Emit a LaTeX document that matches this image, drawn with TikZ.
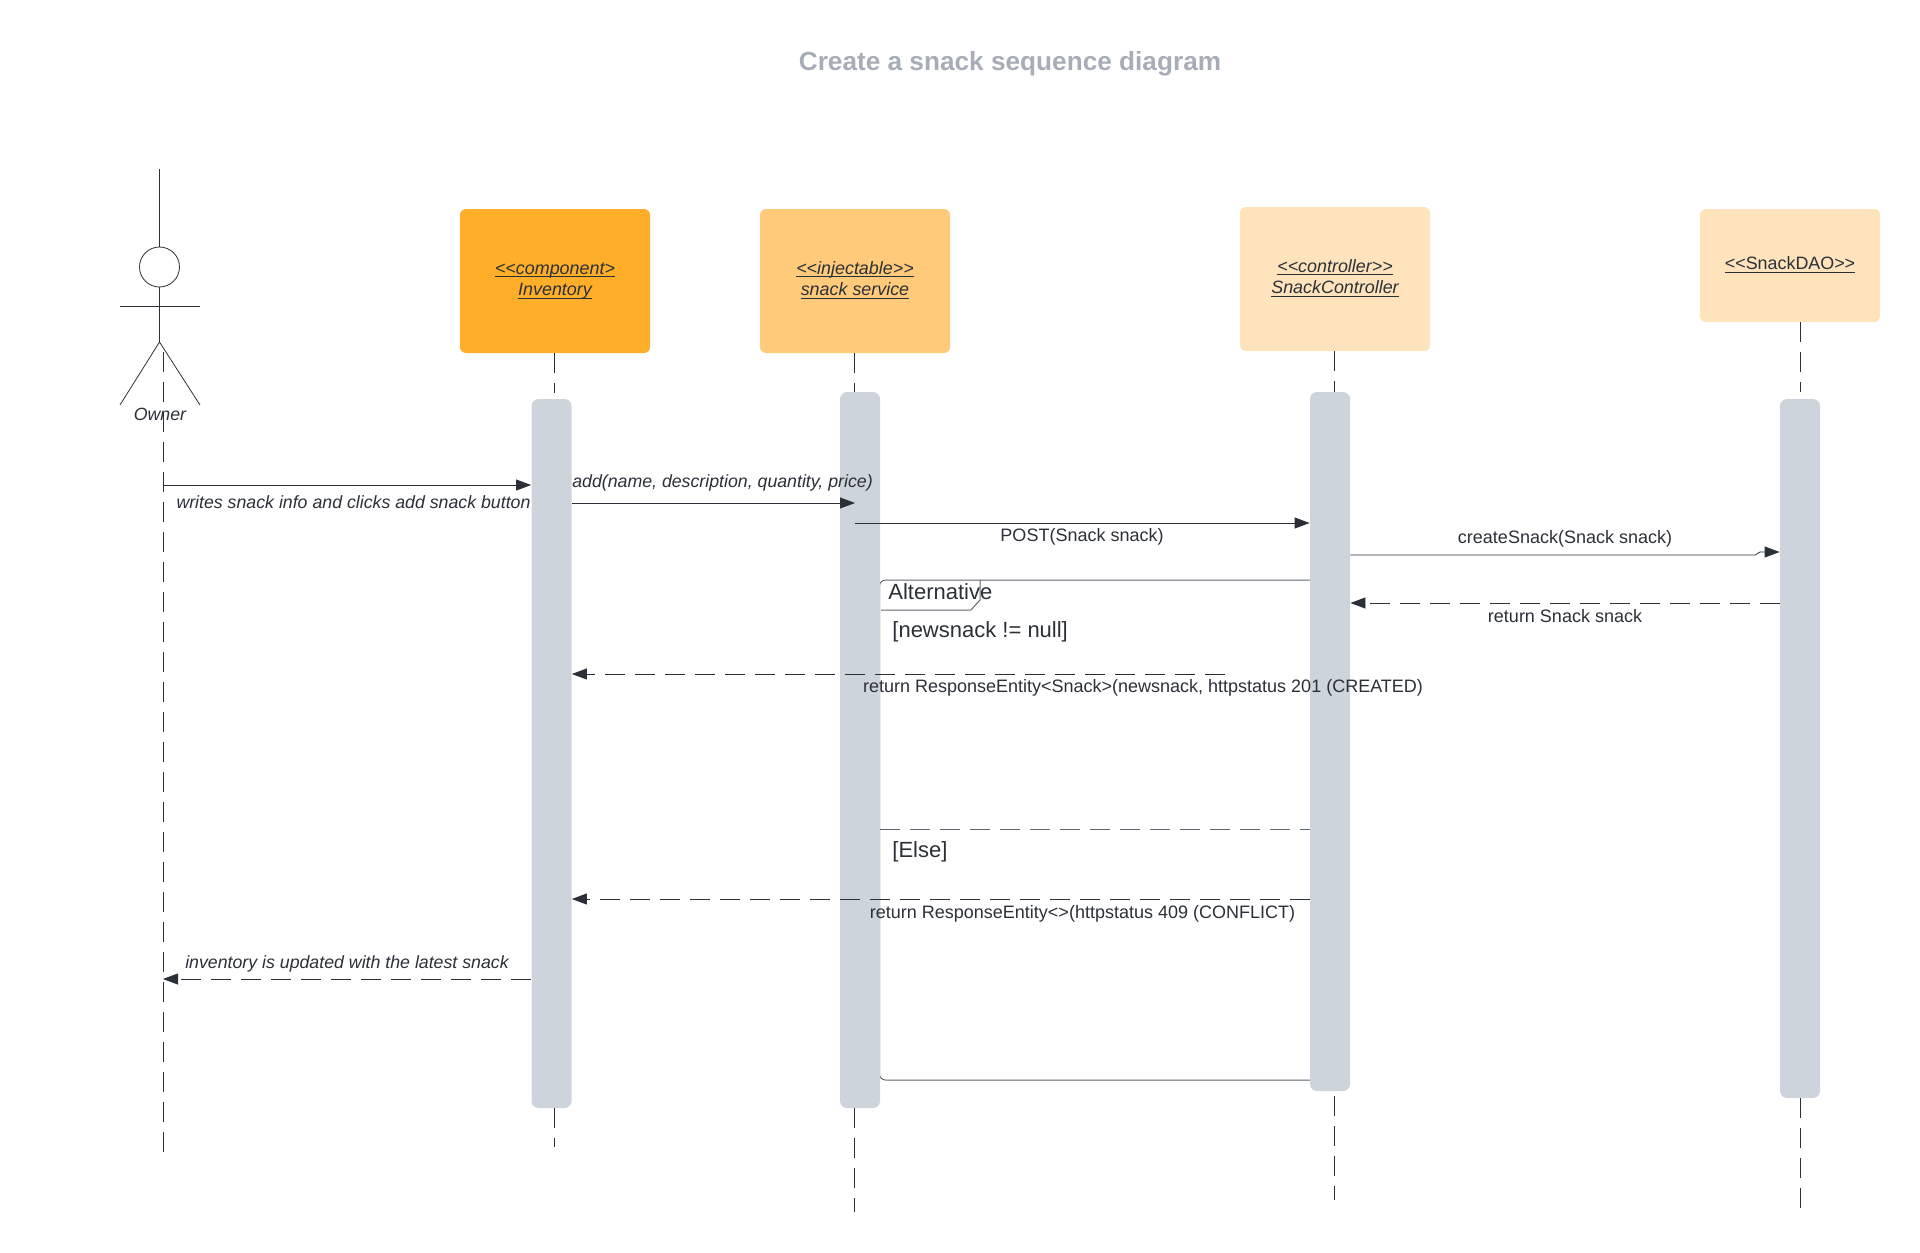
\documentclass[tikz,border=0pt]{standalone}
\usepackage{fontspec}
\setmainfont{Liberation Sans}
\usepackage{xcolor}
\usetikzlibrary{arrows.meta, positioning}
\definecolor{inkdark}{HTML}{2B3038}
\definecolor{titlegray}{HTML}{A7ADB7}
\definecolor{bargray}{HTML}{CED4DC}
\definecolor{edgegray}{HTML}{5F6670}
\definecolor{orangeA}{HTML}{FFAE29}
\definecolor{orangeB}{HTML}{FFCA79}
\definecolor{orangeC}{HTML}{FFE3BC}
\newcommand{\objline}[1]{\raisebox{-1.85pt}[0pt][0pt]{\underline{\mbox{\smash{#1}}}}}

\begin{document}
\begin{tikzpicture}[
  x=0.5pt, y=-0.5pt,
  obj/.style={rectangle, rounded corners=3pt, minimum width=95pt, minimum height=72pt, align=center, text=inkdark, font=\fontsize{8.95}{10.7}\selectfont\itshape},
  bar/.style={rectangle, rounded corners=3.5pt, fill=bargray, minimum width=20pt},
  lifeline/.style={draw=inkdark, line width=0.38pt, dash pattern=on 10pt off 5pt},
  stick/.style={draw=inkdark, line width=0.4pt},
  msg/.style={-{Triangle[length=7.5pt,width=5.5pt]}, draw=inkdark, fill=none, line width=0.4pt},
  reply/.style={msg, dash pattern=on 10pt off 5pt},
  lbl/.style={text=inkdark, inner sep=0pt, font=\fontsize{9}{10}\selectfont},
  lblit/.style={lbl, font=\fontsize{8.87}{10}\selectfont\itshape},
  altlbl/.style={text=inkdark, inner sep=0pt, anchor=west, font=\fontsize{11}{13}\selectfont},
  frameedge/.style={draw=edgegray, line width=0.5pt}
]
\useasboundingbox (0,0) rectangle (1920,1252);

\node[font=\fontsize{13.1}{15}\selectfont\bfseries, text=titlegray] (title) at (1010,64) {Create a snack sequence diagram};

% the actor
\node[circle, stick, minimum size=20pt, inner sep=0pt] (head) at (159.5,267) {};
\coordinate (crown) at (159.5,169);
\coordinate (armL) at (120,306);
\coordinate (armR) at (200,306);
\coordinate (hip) at (159.5,342);
\coordinate (footL) at (120,405);
\coordinate (footR) at (200,405);
\draw[stick] (crown) -- (head.north);
\draw[stick] (head.south) -- (hip);
\draw[stick] (armL) -- (armR);
\draw[stick] (footL) -- (hip) -- (footR);
\coordinate (ownertop) at (163,352);
\coordinate (ownerend) at (163,1152);
\draw[lifeline] (ownertop) -- (ownerend);
\node[lblit] (owner) at (160,414) {Owner};

% objects
\node[obj, fill=orangeA] (inventory) at (555,281) {\objline{<{}<component>}\\\objline{Inventory}};
\node[obj, fill=orangeB] (service) at (855,281) {\objline{<{}<injectable>{}>}\\\objline{snack service}};
\node[obj, fill=orangeC] (controller) at (1335,279) {\objline{<{}<controller>{}>}\\\objline{SnackController}};
\node[obj, fill=orangeC, minimum width=90pt, minimum height=56.5pt, font=\fontsize{8.95}{11}\selectfont] (dao) at (1790,265.5) {\objline{<{}<SnackDAO>{}>}};

% alt frame goes under the bars
\node[rectangle, frameedge, rounded corners=3pt, minimum width=220.5pt, minimum height=250pt] (altframe) at (1100,830) {};

% activation bars
\node[bar, minimum height=354.5pt] (invbar) at (551.5,753.5) {};
\node[bar, minimum height=358pt] (servicebar) at (860,750) {};
\node[bar, minimum height=349.5pt] (ctrlbar) at (1330,741.5) {};
\node[bar, minimum height=349.5pt] (daobar) at (1800,748.5) {};

% lifelines
\coordinate (invfoot) at (554,1147);
\coordinate (servicefoot) at (854,1212);
\coordinate (ctrlfoot) at (1334,1200);
\coordinate (daofoot) at (1800,1209);
\draw[lifeline] (invfoot |- inventory.south) -- (invfoot |- 0,393);
\draw[lifeline] (servicefoot |- service.south) -- (servicefoot |- servicebar.north);
\draw[lifeline] (ctrlfoot |- controller.south) -- (ctrlfoot |- ctrlbar.north);
\draw[lifeline] (daofoot |- dao.south) -- (daofoot |- 0,392);
\draw[lifeline] (invfoot |- invbar.south) -- (invfoot);
\draw[lifeline] (servicefoot |- servicebar.south) -- (servicefoot);
\draw[lifeline] (ctrlfoot |- 0,1096) -- (ctrlfoot);
\draw[lifeline] (daofoot |- daobar.south) -- (daofoot);

% alt tab and divider
\coordinate (tabA) at (980,580);
\coordinate (tabB) at (980,600);
\coordinate (tabC) at (971,610);
\coordinate (tabD) at (881,610);
\draw[frameedge] (tabA) -- (tabB) -- (tabC) -- (tabD);
\draw[frameedge, dash pattern=on 10pt off 5pt] (servicebar.east |- 0,829) -- (ctrlbar.west |- 0,829);

% messages
\coordinate (jog) at (1760,552);
\coordinate (fadeend) at (1225,674);
\draw[msg] (ownertop |- 0,485) -- (invbar.west |- 0,485);
\draw[msg] (invbar.east |- 0,503) -- (service.south |- 0,503);
\draw[msg] (service.south |- 0,523) -- (ctrlbar.west |- 0,523);
\draw[msg] (ctrlbar.east |- 0,555) -- (1755,555) -- (jog) -- (daobar.west |- jog);
\draw[reply] (daobar.west |- 0,603) -- (ctrlbar.east |- 0,603);
\draw[reply] (fadeend) -- (invbar.east |- fadeend);
\draw[reply] (ctrlbar.west |- 0,899) -- (invbar.east |- 0,899);
\draw[reply] (invbar.west |- 0,979) -- (ownertop |- 0,979);

% labels
\node[lblit] (writes) at (353.5,502) {writes snack info and clicks add snack button};
\node[lblit] (addcall) at (722.5,483) {add(name, description, quantity, price)};
\node[lbl] (post) at (1082,537) {POST(Snack snack)};
\node[lbl] (create) at (1565,539) {createSnack(Snack snack)};
\node[lbl] (returnsnack) at (1565,616) {return Snack snack};
\node[altlbl] (alttag) at (888,592) {Alternative};
\node[altlbl] (guard) at (892,632) {[newsnack != null]};
\node[altlbl] (elseguard) at (892,852) {[Else]};
\node[lbl] (created) at (1143,688) {return ResponseEntity<Snack>(newsnack, httpstatus 201 (CREATED)};
\node[lbl] (conflict) at (1082.5,914) {return ResponseEntity<>(httpstatus 409 (CONFLICT)};
\node[lblit] (updated) at (347,964) {inventory is updated with the latest snack};
\end{tikzpicture}
\end{document}
